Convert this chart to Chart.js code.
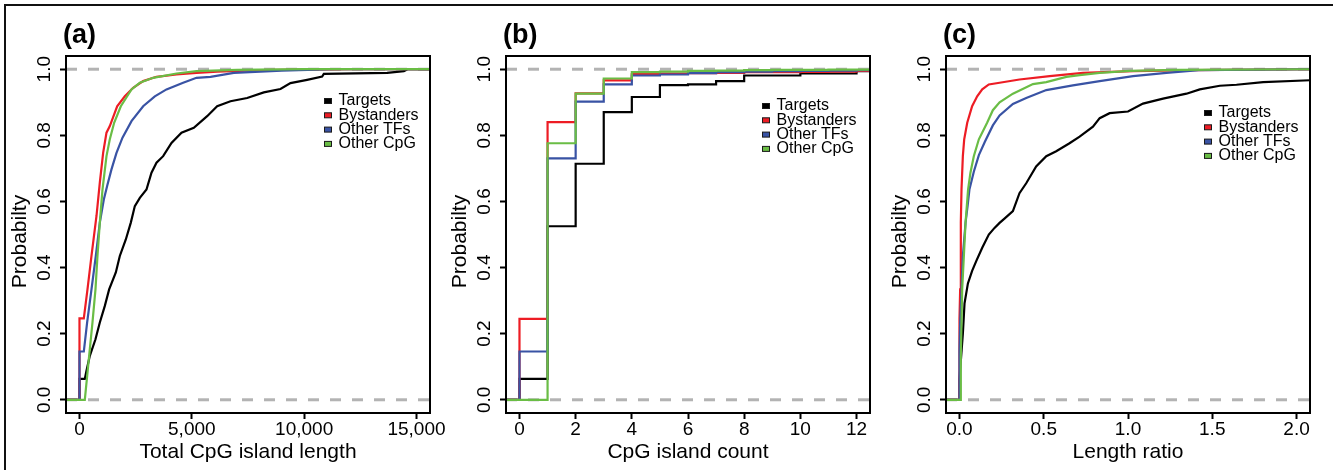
<!DOCTYPE html>
<html>
<head>
<meta charset="utf-8">
<title>CpG island ECDFs</title>
<script src="https://cdn.jsdelivr.net/npm/chart.js@4.4.1/dist/chart.umd.min.js"></script>
<style>
  html, body { margin: 0; padding: 0; background: #fff; }
  #page { position: relative; width: 1333px; height: 470px; overflow: hidden; background: #fff; }
  #page canvas { position: absolute; top: 0; }
  .rule-top { position: absolute; left: 4px; top: 4px; right: 0; height: 0; border-top: 2px solid #111; }
  .rule-left { position: absolute; left: 4px; top: 4px; bottom: 0; width: 0; border-left: 2px solid #111; }
</style>
</head>
<body>
<div id="page">
  <div class="rule-top"></div>
  <div class="rule-left"></div>
  <canvas id="panelA" width="470" height="470" style="left:0"></canvas>
  <canvas id="panelB" width="470" height="470" style="left:440px"></canvas>
  <canvas id="panelC" width="453" height="470" style="left:880px"></canvas>
</div>
<script>
const FONT = '"Liberation Sans", Arial, Helvetica, sans-serif';

const seriesNames = ['Targets', 'Bystanders', 'Other TFs', 'Other CpG'];
const seriesColors = ['#000000', '#ed1c24', '#3953a4', '#6abd45'];
const probRange = [-0.04, 1.04];
const probTicks = [0, 0.2, 0.4, 0.6, 0.8, 1.0];

// (a) total CpG island length
const lenRange = [-600, 15600];
const lenTicks = [0, 5000, 10000, 15000];
const lenTargetsX = [-600, 0, 0, 237, 312, 460, 712, 905, 1128, 1320, 1617, 1795, 2062, 2285, 2463, 2686, 2982, 3205, 3427, 3724, 4095, 4540, 5088, 5682, 6127, 6720, 7462, 8203, 8945, 9390, 10131, 10800, 10874, 13694, 14436, 14600, 15600];
const lenTargetsY = [0, 0, 0.063, 0.063, 0.088, 0.133, 0.183, 0.234, 0.284, 0.334, 0.385, 0.435, 0.485, 0.536, 0.586, 0.611, 0.636, 0.687, 0.717, 0.737, 0.777, 0.808, 0.823, 0.858, 0.888, 0.903, 0.913, 0.930, 0.940, 0.958, 0.968, 0.978, 0.986, 0.989, 0.994, 1, 1];
const lenBystandersX = [-600, 0, 0, 193, 356, 534, 757, 905, 1053, 1202, 1350, 1677, 2018, 2389, 2834, 3427, 4318, 5208, 6128, 8000, 12200, 15600];
const lenBystandersY = [0, 0, 0.246, 0.246, 0.334, 0.435, 0.556, 0.657, 0.747, 0.808, 0.828, 0.888, 0.918, 0.944, 0.964, 0.977, 0.984, 0.989, 0.993, 0.997, 1, 1];
const lenOtherTFsX = [-600, 0, 0, 193, 341, 534, 727, 905, 1083, 1231, 1424, 1647, 1914, 2315, 2834, 3353, 3872, 4614, 5208, 5831, 6869, 9000, 11300, 15600];
const lenOtherTFsY = [0, 0, 0.146, 0.146, 0.234, 0.334, 0.435, 0.536, 0.606, 0.647, 0.697, 0.747, 0.793, 0.843, 0.888, 0.918, 0.939, 0.959, 0.974, 0.977, 0.989, 0.996, 1, 1];
const lenOtherCpGX = [-600, 237, 430, 579, 712, 801, 905, 1024, 1202, 1350, 1543, 1840, 2315, 2685, 3279, 4318, 5208, 7000, 10000, 15600];
const lenOtherCpGY = [0, 0, 0.133, 0.234, 0.334, 0.435, 0.536, 0.636, 0.737, 0.788, 0.838, 0.888, 0.939, 0.959, 0.974, 0.987, 0.994, 0.998, 1, 1];

// (b) CpG island count, one value per integer count
const countRange = [-0.48, 12.48];
const countTicks = [0, 2, 4, 6, 8, 10, 12];
const countX = [-1, 0, 1, 2, 3, 4, 5, 6, 7, 8, 9, 10, 11, 12, 13];
const countTargets = [0, 0.063, 0.525, 0.714, 0.870, 0.916, 0.952, 0.954, 0.964, 0.981, 0.981, 0.987, 0.987, 0.994, 1];
const countBystanders = [0, 0.245, 0.840, 0.927, 0.966, 0.985, 0.987, 0.988, 0.989, 0.991, 0.991, 0.992, 0.993, 0.995, 1];
const countOtherTFs = [0, 0.146, 0.730, 0.902, 0.954, 0.981, 0.984, 0.988, 0.991, 0.993, 0.994, 0.995, 0.996, 0.997, 1];
const countOtherCpG = [0, 0, 0.776, 0.926, 0.972, 0.991, 0.993, 0.995, 0.996, 0.997, 0.998, 0.998, 0.999, 0.999, 1];

// (c) length ratio
const ratioRange = [-0.08, 2.08];
const ratioTicks = [0, 0.5, 1.0, 1.5, 2.0];
const ratioTargetsX = [-0.1, 0, 0, 0.02, 0.03, 0.05, 0.075, 0.1, 0.135, 0.174, 0.208, 0.238, 0.267, 0.317, 0.356, 0.396, 0.455, 0.515, 0.574, 0.653, 0.713, 0.792, 0.832, 0.891, 1.0, 1.089, 1.208, 1.347, 1.426, 1.545, 1.644, 1.802, 2.1];
const ratioTargetsY = [0, 0, 0.063, 0.2, 0.292, 0.352, 0.39, 0.42, 0.46, 0.5, 0.52, 0.535, 0.548, 0.571, 0.625, 0.655, 0.706, 0.737, 0.752, 0.776, 0.796, 0.826, 0.852, 0.867, 0.872, 0.896, 0.911, 0.926, 0.939, 0.95, 0.953, 0.961, 0.967];
const ratioBystandersX = [-0.1, 0, 0, 0.004, 0.008, 0.012, 0.02, 0.028, 0.046, 0.075, 0.105, 0.135, 0.174, 0.238, 0.356, 0.535, 0.733, 1.03, 1.386, 2.1];
const ratioBystandersY = [0, 0, 0.245, 0.334, 0.536, 0.636, 0.737, 0.788, 0.838, 0.888, 0.918, 0.939, 0.954, 0.959, 0.969, 0.979, 0.989, 0.994, 0.997, 1];
const ratioOtherTFsX = [-0.1, 0, 0, 0.004, 0.012, 0.02, 0.036, 0.048, 0.059, 0.085, 0.115, 0.15, 0.198, 0.238, 0.317, 0.396, 0.515, 0.673, 0.832, 1.03, 1.228, 1.42, 2.1];
const ratioOtherTFsY = [0, 0, 0.146, 0.234, 0.334, 0.435, 0.536, 0.586, 0.636, 0.69, 0.74, 0.78, 0.83, 0.86, 0.895, 0.913, 0.937, 0.951, 0.964, 0.979, 0.989, 0.997, 1];
const ratioOtherCpGX = [-0.1, 0.006, 0.008, 0.016, 0.026, 0.036, 0.051, 0.065, 0.085, 0.115, 0.164, 0.198, 0.238, 0.317, 0.436, 0.515, 0.634, 0.713, 0.832, 1.01, 1.3, 2.1];
const ratioOtherCpGY = [0, 0, 0.133, 0.334, 0.435, 0.536, 0.636, 0.687, 0.737, 0.788, 0.838, 0.876, 0.9, 0.926, 0.955, 0.961, 0.977, 0.982, 0.989, 0.995, 0.998, 1];

const toPoints = (xs, ys) => xs.map((x, i) => ({ x, y: ys[i] }));

// Base-graphics look: closed box, rotated y labels, panel tag and legend
const rStyle = {
  id: 'rStyle',
  afterDatasetsDraw(chart) {
    const { ctx, chartArea: a } = chart;
    ctx.save();
    ctx.lineWidth = 2;
    ctx.strokeStyle = '#000';
    ctx.strokeRect(a.left, a.top, a.right - a.left, a.bottom - a.top);
    ctx.restore();
  },
  afterDraw(chart, args, opts) {
    const { ctx, chartArea: a } = chart;
    const yScale = chart.scales.y;
    ctx.save();
    ctx.fillStyle = '#000';

    // y tick labels, reading upwards
    ctx.font = `19px ${FONT}`;
    ctx.textAlign = 'center';
    ctx.textBaseline = 'alphabetic';
    probTicks.forEach(v => {
      ctx.save();
      ctx.translate(a.left - 16, yScale.getPixelForValue(v));
      ctx.rotate(-Math.PI / 2);
      ctx.fillText(v.toFixed(1), 0, 0);
      ctx.restore();
    });

    // y axis title
    ctx.save();
    ctx.font = `21px ${FONT}`;
    ctx.translate(a.left - 40, (a.top + a.bottom) / 2 + 7);
    ctx.rotate(-Math.PI / 2);
    ctx.fillText('Probabilty', 0, 0);
    ctx.restore();

    // panel tag
    ctx.font = `bold 27px ${FONT}`;
    ctx.textAlign = 'left';
    ctx.fillText(opts.tag, a.left - 3, 43);

    // legend
    ctx.font = `16px ${FONT}`;
    ctx.textBaseline = 'middle';
    seriesNames.forEach((name, i) => {
      const cx = a.left + opts.legendDx;
      const cy = a.top + opts.legendDy + i * 14.3;
      ctx.fillStyle = seriesColors[i];
      ctx.fillRect(cx - 3.5, cy - 2.5, 7, 5);
      ctx.lineWidth = 1;
      ctx.strokeStyle = '#1a1a1a';
      ctx.strokeRect(cx - 3.5, cy - 2.5, 7, 5);
      ctx.fillStyle = '#000';
      ctx.fillText(name, cx + 10.5, cy);
    });
    ctx.restore();
  }
};

function makePanel(canvasId, cfg) {
  const refLine = (v) => ({
    data: [{ x: cfg.xRange[0], y: v }, { x: cfg.xRange[1], y: v }],
    borderColor: '#b3b3b3',
    borderWidth: 3,
    borderDash: [11, 11],
    pointRadius: 0,
    order: 10
  });

  const curves = cfg.series.map(([xs, ys], i) => ({
    label: seriesNames[i],
    data: toPoints(xs, ys),
    borderColor: seriesColors[i],
    borderWidth: 2.2,
    pointRadius: 0,
    stepped: cfg.stepped || false,
    order: 4 - i
  }));

  const tickGrid = {
    drawOnChartArea: false,
    drawTicks: true,
    tickLength: 6,
    tickWidth: 2,
    tickColor: '#000',
    color: '#000'
  };

  return new Chart(document.getElementById(canvasId), {
    type: 'line',
    data: { datasets: [refLine(0), refLine(1), ...curves] },
    options: {
      responsive: false,
      animation: false,
      devicePixelRatio: 1,
      layout: { padding: { top: 56, right: cfg.padRight, bottom: 0, left: 0 } },
      plugins: {
        legend: { display: false },
        tooltip: { enabled: false },
        rStyle: { tag: cfg.tag, legendDx: cfg.legendAt[0], legendDy: cfg.legendAt[1] }
      },
      scales: {
        x: {
          type: 'linear',
          min: cfg.xRange[0],
          max: cfg.xRange[1],
          afterBuildTicks: (s) => { s.ticks = cfg.xTicks.map(v => ({ value: v })); },
          afterFit: (s) => { s.height = 57; },
          grid: tickGrid,
          border: { display: false },
          ticks: {
            autoSkip: false,
            maxRotation: 0,
            padding: 0,
            color: '#000',
            font: { family: FONT, size: 19, lineHeight: 1.1 },
            callback: cfg.xFormat
          },
          title: {
            display: true,
            text: cfg.xLabel,
            color: '#000',
            font: { family: FONT, size: 21 },
            padding: { top: 0, bottom: 5 }
          }
        },
        y: {
          type: 'linear',
          min: probRange[0],
          max: probRange[1],
          afterBuildTicks: (s) => { s.ticks = probTicks.map(v => ({ value: v })); },
          afterFit: (s) => { s.width = 66; },
          grid: tickGrid,
          border: { display: false },
          ticks: { display: false }
        }
      }
    },
    plugins: [rStyle]
  });
}

makePanel('panelA', {
  tag: '(a)',
  xLabel: 'Total CpG island length',
  xRange: lenRange,
  xTicks: lenTicks,
  xFormat: (v) => v.toLocaleString('en-US'),
  padRight: 40,
  legendAt: [262, 45],
  series: [
    [lenTargetsX, lenTargetsY],
    [lenBystandersX, lenBystandersY],
    [lenOtherTFsX, lenOtherTFsY],
    [lenOtherCpGX, lenOtherCpGY]
  ]
});

makePanel('panelB', {
  tag: '(b)',
  xLabel: 'CpG island count',
  xRange: countRange,
  xTicks: countTicks,
  xFormat: (v) => String(v),
  padRight: 40,
  legendAt: [260, 50],
  stepped: true,
  series: [
    [countX, countTargets],
    [countX, countBystanders],
    [countX, countOtherTFs],
    [countX, countOtherCpG]
  ]
});

makePanel('panelC', {
  tag: '(c)',
  xLabel: 'Length ratio',
  xRange: ratioRange,
  xTicks: ratioTicks,
  xFormat: (v) => v.toFixed(1),
  padRight: 23,
  legendAt: [262, 57],
  series: [
    [ratioTargetsX, ratioTargetsY],
    [ratioBystandersX, ratioBystandersY],
    [ratioOtherTFsX, ratioOtherTFsY],
    [ratioOtherCpGX, ratioOtherCpGY]
  ]
});
</script>
</body>
</html>
